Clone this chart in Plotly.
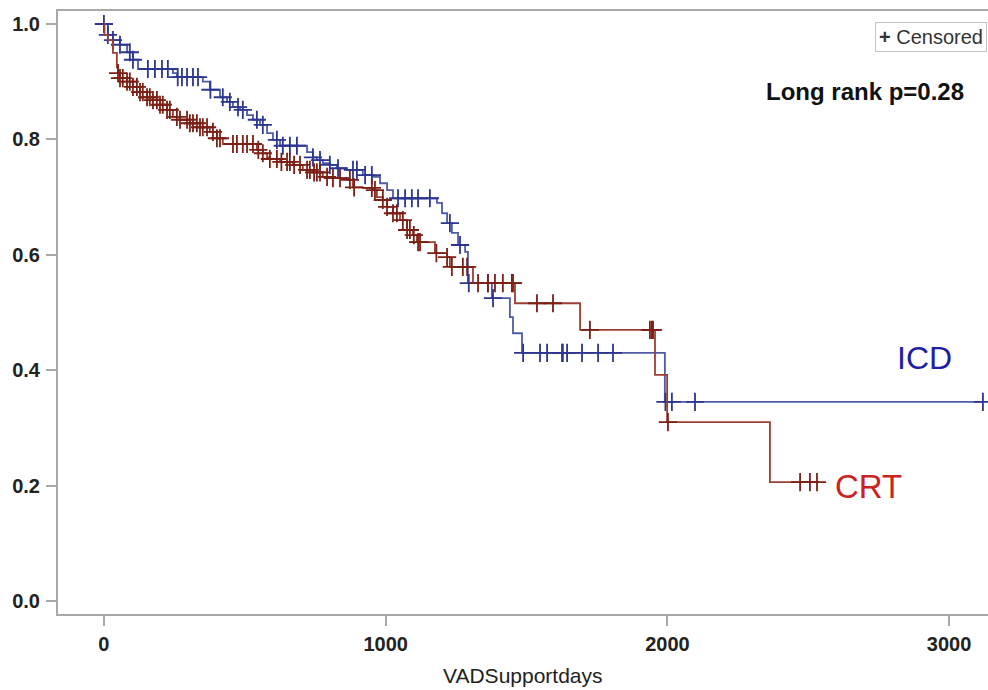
import numpy as np
import plotly.graph_objects as go

# ---------------- data ----------------
# ICD group: Kaplan-Meier step times (days) and survival after each step
icd_days = [0, 14, 32, 57, 82, 103, 121, 245, 259, 351, 376, 412, 437, 458, 483, 508,
            529, 554, 579, 600, 625, 721, 742, 756, 777, 802, 827, 863, 919, 955, 980,
            1005, 1026, 1182, 1200, 1218, 1235, 1257, 1282, 1292, 1377, 1441, 1452,
            1484, 1991]
icd_surv = [1.000, 0.981, 0.972, 0.964, 0.951, 0.938, 0.922, 0.915, 0.908, 0.900, 0.886,
            0.873, 0.865, 0.856, 0.851, 0.842, 0.834, 0.825, 0.811, 0.799, 0.789, 0.778,
            0.769, 0.764, 0.759, 0.756, 0.750, 0.747, 0.738, 0.735, 0.724, 0.712, 0.698,
            0.690, 0.672, 0.655, 0.638, 0.617, 0.605, 0.551, 0.525, 0.492, 0.464, 0.430,
            0.345]
icd_last_day = 3120
icd_censored = [0, 14, 32, 57, 92, 103, 156, 181, 206, 227, 262, 277, 295, 316, 334, 378,
                422, 447, 476, 493, 543, 564, 614, 635, 660, 685, 742, 767, 802, 831, 884,
                898, 927, 951, 1044, 1069, 1093, 1115, 1157, 1228, 1264, 1295, 1363, 1381,
                1488, 1548, 1573, 1626, 1629, 1644, 1697, 1754, 1807, 1993, 2016, 2098, 3120]

# CRT group
crt_days = [0, 2, 14, 32, 46, 50, 57, 82, 103, 128, 153, 174, 199, 224, 245, 270, 305,
            341, 376, 401, 422, 543, 564, 579, 589, 625, 671, 706, 742, 777, 813, 863,
            884, 919, 955, 969, 990, 1005, 1026, 1051, 1076, 1097, 1111, 1175, 1218, 1228,
            1310, 1459, 1690, 1956, 1999, 2364]
crt_surv = [1.000, 0.981, 0.972, 0.950, 0.925, 0.915, 0.906, 0.900, 0.891, 0.882, 0.873,
            0.868, 0.860, 0.851, 0.839, 0.834, 0.828, 0.821, 0.813, 0.802, 0.792, 0.782,
            0.776, 0.769, 0.766, 0.761, 0.756, 0.747, 0.743, 0.735, 0.733, 0.730, 0.717,
            0.716, 0.712, 0.700, 0.695, 0.683, 0.672, 0.660, 0.643, 0.634, 0.622, 0.603,
            0.596, 0.579, 0.551, 0.516, 0.470, 0.392, 0.310, 0.206]
crt_last_day = 2531
crt_censored = [50, 57, 67, 82, 92, 103, 117, 128, 138, 153, 163, 174, 188, 199, 209, 224,
                234, 259, 270, 295, 305, 316, 330, 341, 351, 366, 387, 401, 412, 458, 472,
                493, 508, 529, 548, 564, 589, 614, 630, 650, 660, 675, 696, 721, 731, 746,
                756, 767, 792, 813, 838, 873, 888, 951, 962, 990, 1005, 1026, 1040, 1061,
                1076, 1086, 1100, 1115, 1122, 1180, 1218, 1235, 1274, 1289, 1328, 1363,
                1388, 1416, 1448, 1452, 1537, 1594, 1725, 1938, 1945, 1949, 2002, 2471,
                2506, 2531]

x_ticks = [0, 1000, 2000, 3000]
y_ticks = [0.0, 0.2, 0.4, 0.6, 0.8, 1.0]
y_tick_text = ["0.0", "0.2", "0.4", "0.6", "0.8", "1.0"]

# ---------------- styles ----------------
ICD_LINE = "#4e5ca8"
ICD_MARK = "#2d378f"
CRT_LINE = "#9c3e33"
CRT_MARK = "#7c2016"
AXIS_GRAY = "#a9a9a9"
FONT = "Liberation Sans, Arial, sans-serif"


def surv_at(days, surv, query):
    idx = np.searchsorted(np.asarray(days), np.asarray(query), side="right") - 1
    return np.asarray(surv)[idx]


fig = go.Figure()

for days, surv, last, cens, lc, mc, name in [
    (icd_days, icd_surv, icd_last_day, icd_censored, ICD_LINE, ICD_MARK, "ICD"),
    (crt_days, crt_surv, crt_last_day, crt_censored, CRT_LINE, CRT_MARK, "CRT"),
]:
    fig.add_trace(go.Scatter(
        x=days + [last], y=surv + [surv[-1]], mode="lines",
        line=dict(color=lc, width=1.8, shape="hv"), name=name, showlegend=False,
        hoverinfo="skip"))
    fig.add_trace(go.Scatter(
        x=cens, y=surv_at(days, surv, cens), mode="markers",
        marker=dict(symbol="cross-thin", size=13, line=dict(color=mc, width=1.8)),
        name=name + " censored", showlegend=False))

fig.update_layout(
    width=988, height=690,
    margin=dict(l=58, r=0, t=11, b=76),
    paper_bgcolor="white", plot_bgcolor="white",
    font=dict(family=FONT, color="#222222"),
    xaxis=dict(range=[-163, 3138], tickvals=x_ticks, showgrid=False, zeroline=False,
               showline=True, linecolor=AXIS_GRAY, linewidth=2, mirror=True,
               ticks="outside", ticklen=10, tickwidth=1.5, tickcolor=AXIS_GRAY,
               tickfont=dict(size=20, family=FONT, color="#222222", weight="bold"),
               ticklabelstandoff=1, automargin=False),
    yaxis=dict(range=[-0.0225, 1.0225], tickvals=y_ticks, ticktext=y_tick_text,
               showgrid=False, zeroline=False, showline=True, linecolor=AXIS_GRAY,
               linewidth=2, ticks="outside", ticklen=10, tickwidth=1.5,
               tickcolor=AXIS_GRAY,
               tickfont=dict(size=20, family=FONT, color="#222222", weight="bold"),
               ticklabelstandoff=2, automargin=False),
    annotations=[
        dict(text="VADSupportdays", xref="paper", yref="paper", x=0.5, y=-0.1025,
             xanchor="center", yanchor="middle", showarrow=False,
             font=dict(size=21, family=FONT, color="#222222")),
        dict(text="<b>Long rank p=0.28</b>", xref="paper", yref="paper", x=0.868, y=0.866,
             xanchor="center", yanchor="middle", showarrow=False,
             font=dict(size=24, family=FONT, color="#111111")),
        dict(text="ICD", xref="paper", yref="paper", x=0.932, y=0.4245,
             xanchor="center", yanchor="middle", showarrow=False,
             font=dict(size=32, family=FONT, color="#1e1ea6")),
        dict(text="CRT", xref="paper", yref="paper", x=0.871, y=0.212,
             xanchor="center", yanchor="middle", showarrow=False,
             font=dict(size=33, family=FONT, color="#cc2222")),
        dict(text="<b>+</b> Censored", xref="paper", yref="paper", x=0.999, y=0.982,
             xanchor="right", yanchor="top", showarrow=False,
             bordercolor="#c4c4c4", borderwidth=1, borderpad=3, bgcolor="white",
             font=dict(size=20, family=FONT, color="#333333")),
    ],
)

fig.write_html("out.html", config={"displayModeBar": False},
               post_script="document.body.style.margin='0';")
